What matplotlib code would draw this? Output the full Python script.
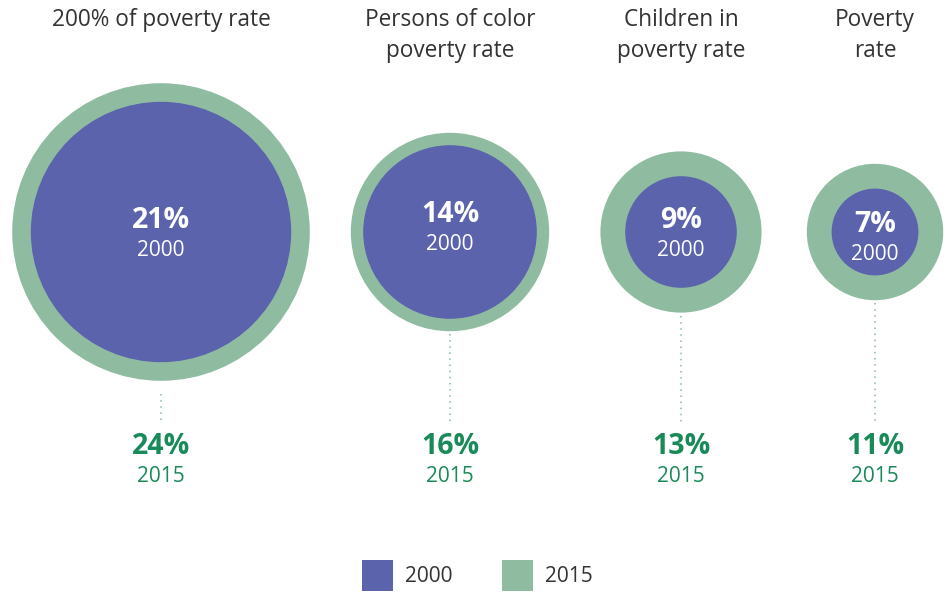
import matplotlib.pyplot as plt
from matplotlib.patches import Circle, Rectangle

plt.rcParams['font.family'] = ['Open Sans', 'DejaVu Sans']

# data
titles = ['200% of poverty rate', 'Persons of color\npoverty rate',
          'Children in\npoverty rate', 'Poverty\nrate']
rate_2000 = [21, 14, 9, 7]
rate_2015 = [24, 16, 13, 11]
years = ['2000', '2015']

purple = '#5b63ad'
green = '#8fbca1'
text_green = '#1a8a58'
dot_color = '#86b9ad'

centers_x = [161, 450, 681, 875]
label_dy = [0, -6, 0, 4]      # small shifts of the inner labels
line_gap = [13, 3, 3, 3]      # gap between circle and dotted connector
cy = 232
scale = 6.2  # pixels per percentage point (radius)

fig = plt.figure(figsize=(9.47, 5.92), dpi=100)
ax = fig.add_axes([0, 0, 1, 1])
ax.set_xlim(0, 947)
ax.set_ylim(592, 0)
ax.set_aspect('equal')
ax.axis('off')

for i, (cx, t, v0, v1) in enumerate(zip(centers_x, titles, rate_2000, rate_2015)):
    r1 = v1 * scale
    r0 = v0 * scale
    ax.add_patch(Circle((cx, cy), r1, color=green, lw=0))
    ax.add_patch(Circle((cx, cy), r0, color=purple, lw=0))
    # dotted connector
    ax.plot([cx, cx], [cy + r1 + line_gap[i], 422], ls=(0, (1, 3)),
            color=dot_color, lw=1.1)
    # titles
    ax.text(cx, 8, t, ha='center', va='top', fontsize=16.3, color='#333333',
            linespacing=1.38)
    # inner labels
    dy = label_dy[i]
    ax.text(cx, cy - 12 + dy, f'{v0}%', ha='center', va='center', fontsize=20.5,
            fontweight='bold', color='white')
    ax.text(cx, cy + 18 + dy, years[0], ha='center', va='center', fontsize=15,
            color='white')
    # outer labels
    ax.text(cx, 446, f'{v1}%', ha='center', va='center', fontsize=20.5,
            fontweight='bold', color=text_green)
    ax.text(cx, 477, years[1], ha='center', va='center', fontsize=15,
            color=text_green)

# legend
for lx, col, lab in [(362, purple, years[0]), (502, green, years[1])]:
    ax.add_patch(Rectangle((lx, 560), 31, 31, color=col, lw=0))
    ax.text(lx + 43, 576, lab, ha='left', va='center', fontsize=15, color='#333333')

fig.savefig('out.png', dpi=100)
